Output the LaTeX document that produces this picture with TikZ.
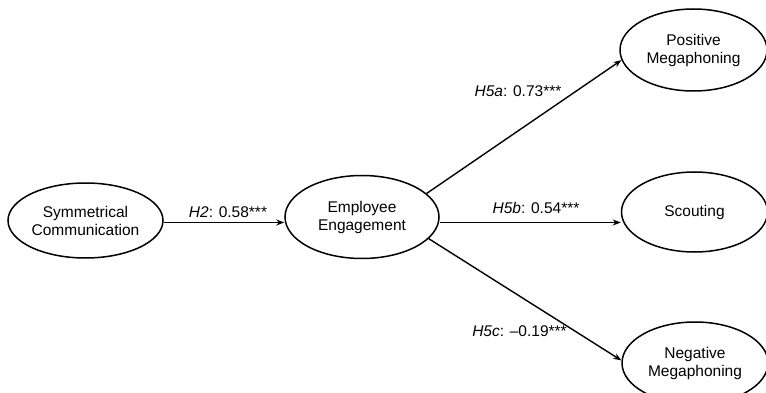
\documentclass[tikz,border=0pt]{standalone}
\usepackage{fontspec}
\setmainfont{Liberation Sans}
\usetikzlibrary{shapes.geometric,arrows.meta}
\tikzset{
  construct/.style={ellipse,draw,line width=1.5pt,inner sep=0pt,align=center,
    font=\fontsize{15.5}{18}\selectfont},
  path/.style={line width=1.4pt,-{Stealth[length=8pt,width=6pt]}},
  coef/.style={anchor=base,inner sep=0pt,font=\fontsize{15.5}{18}\selectfont}
}
\begin{document}
\begin{tikzpicture}[x=1pt,y=-1pt]
\useasboundingbox (0,0) rectangle (766,393);
\clip (0,0) rectangle (766,393);
\node[construct,minimum width=155pt,minimum height=75pt] (sym) at (85.5,220.5) {Symmetrical\\Communication};
\node[construct,minimum width=154pt,minimum height=83pt] (ee) at (362,217) {Employee\\Engagement};
\node[construct,minimum width=147pt,minimum height=82pt] (pos) at (693.5,50) {Positive\\Megaphoning};
\node[construct,minimum width=146pt,minimum height=80pt] (sc) at (694.5,212) {Scouting};
\node[construct,minimum width=146pt,minimum height=82pt] (neg) at (695,363) {Negative\\Megaphoning};
\coordinate (ya) at (0,222.5);
\coordinate (yb) at (0,222.5);
\draw[path] (sym.east |- ya) -- (ee.west |- ya);
\draw[path] (ee.east |- yb) -- (sc.west |- yb);
\draw[path] (ee.20) -- (pos.188);
\draw[path] (ee.-18) -- (neg.178);
\node[coef] (l2) at (228,217) {\textit{H2}: 0.58***};
\node[coef] (l5a) at (518,97) {\textit{H5a}: 0.73***};
\node[coef] (l5b) at (536,213) {\textit{H5b}: 0.54***};
\node[coef] (l5c) at (519.5,336) {\textit{H5c}: \textendash0.19***};
\end{tikzpicture}
\end{document}
